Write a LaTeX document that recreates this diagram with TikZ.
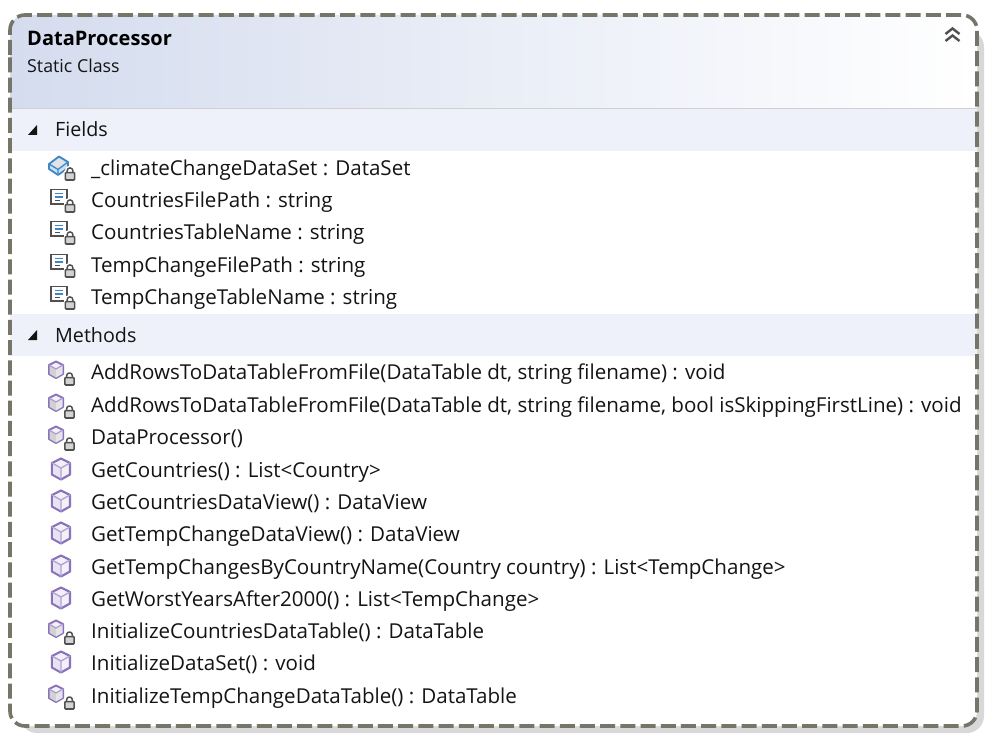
\documentclass[tikz,border=0pt]{standalone}
\usepackage{fontspec}
\setmainfont{Open Sans}
\definecolor{dashc}{HTML}{77756A}
\definecolor{shadowc}{HTML}{D8D8D8}
\definecolor{headl}{HTML}{D4DCEE}
\definecolor{bandc}{HTML}{EEF1F9}
\definecolor{rulec}{HTML}{CFCFCF}
\definecolor{purp}{HTML}{8A72BC}
\definecolor{purpl}{HTML}{F3F0F8}
\definecolor{txtc}{HTML}{141414}
\definecolor{lockc}{HTML}{505050}
\definecolor{bluei}{HTML}{3F86C6}
\tikzset{
  x=1pt,y=-1pt,
  member/.style={anchor=base west,inner sep=0pt,text=txtc,font=\fontsize{20.55}{24}\selectfont},
  band/.style={anchor=base west,inner sep=0pt,text=txtc,font=\fontsize{19.7}{24}\selectfont},
  pics/lockp/.style={code={
    \draw[white,line width=4.5pt,rounded corners=2.8pt] (-2.8,-3) -- (-2.8,-8) -- (2.8,-8) -- (2.8,-3);
    \fill[white] (-6.4,-4.8) rectangle (6.4,5.8);
    \draw[lockc,line width=1.5pt,rounded corners=2.6pt] (-2.8,-3) -- (-2.8,-8) -- (2.8,-8) -- (2.8,-3);
    \draw[lockc,fill=lockc!25,line width=1.6pt,rounded corners=.8pt] (-4.6,-3.4) rectangle (4.6,4);
  }},
  pics/cube/.style={code={
    \draw[purp,fill=purpl,line width=2.2pt,line join=round] (0,-10.5) -- (9,-6) -- (9,5.5) -- (0,10.5) -- (-9,5.5) -- (-9,-6) -- cycle;
    \fill[purp!20] (0,-1) -- (-7.8,-5.3) -- (-7.8,4.8) -- (0,9.2) -- cycle;
    \draw[purp!65,line width=1.4pt] (-9,-6) -- (0,-1) -- (9,-6) (0,-1) -- (0,10.5);
  }},
  pics/cubelock/.style={code={
    \draw[purp,fill=purpl,line width=2pt,line join=round] (0,-8.5) -- (7,-5) -- (7,4) -- (0,8) -- (-7,4) -- (-7,-5) -- cycle;
    \fill[gray!35] (0,-1) -- (0,7.5) -- (-6.5,3.8) -- (-6.5,-4.5) -- cycle;
    \fill[gray!20] (0,-1) -- (0,7.5) -- (6.5,3.8) -- (6.5,-4.5) -- cycle;
    \draw[purp!70,line width=1.2pt] (-7,-5) -- (0,-1) -- (7,-5);
    \pic at (13.5,11) {lockp};
  }},
  pics/fieldlock/.style={code={
    \draw[lockc,fill=white,line width=1.5pt] (-8,-7.5) rectangle (8,7);
    \draw[bluei,line width=1.6pt] (-4.5,-3.5) -- (3.5,-3.5) (-4.5,0) -- (3.5,0);
    \draw[lockc,line width=1.5pt] (-4.5,3.5) -- (1,3.5);
    \pic at (11,11) {lockp};
  }},
  pics/datasetlock/.style={code={
    \draw[bluei,fill=bluei!25,line width=1.8pt,line join=round] (-11,-2) -- (-1,-9.5) -- (8,-4) -- (8,2) -- (-2,9) -- (-11,3) -- cycle;
    \fill[gray!22] (-8,-2) -- (-1,-7) -- (5,-3.5) -- (-2,1.5) -- cycle;
    \draw[bluei,line width=1.3pt] (-11,-2) -- (-2,3.5) -- (8,-4) (-2,3.5) -- (-2,9);
    \pic at (10,10) {lockp};
  }},
}
\begin{document}
\begin{tikzpicture}
\useasboundingbox (0,0) rectangle (993,743);
\fill[white] (0,0) rectangle (993,743);
% shadow
\fill[shadowc,rounded corners=17pt] (20,30) rectangle (984,733);
\fill[white,rounded corners=15pt] (10,15) rectangle (977,726);
% header
\begin{scope}
\clip[rounded corners=15pt] (10,15) rectangle (977,726);
\shade[left color=headl,right color=white] (10,15) rectangle (977,108);
\fill[bandc] (10,109) rectangle (977,151);
\fill[bandc] (10,314) rectangle (977,356);
\draw[rulec,line width=1pt] (10,108.5) -- (977,108.5);
\end{scope}
% outer dashed border
\draw[dashc,line width=3.6pt,dash pattern=on 15pt off 5.2pt,rounded corners=15pt] (10,70) -- (10,15) -- (977,15) -- (977,726) -- (10,726) -- cycle;
% title
\node[anchor=base west,inner sep=0pt,text=black,font=\fontsize{20}{24}\selectfont\bfseries] (title) at (27,46) {DataProcessor};
\node[anchor=base west,inner sep=0pt,text=txtc,font=\fontsize{17.8}{21}\selectfont] (subtitle) at (27,73) {Static Class};
% collapse chevrons
\draw[lockc,line width=2.4pt] (945.5,34) -- (952.5,28.5) -- (959.5,34) (945.5,41) -- (952.5,35.5) -- (959.5,41);
% section arrows
\fill[txtc] (37,125) -- (37,135) -- (28,135) -- cycle;
\fill[txtc] (37,330) -- (37,340) -- (28,340) -- cycle;
\node[band] (fields) at (55,137) {Fields};
\node[band] (methods) at (55,342) {Methods};
% fields
\pic at (60,166) {datasetlock};
\pic at (59,197) {fieldlock};
\pic at (59,229) {fieldlock};
\pic at (59,262) {fieldlock};
\pic at (59,294) {fieldlock};
\node[member] (f1) at (91,175.5) {\_climateChangeDataSet : DataSet};
\node[member] (f2) at (91,207.5) {CountriesFilePath : string};
\node[member] (f3) at (91,239.5) {CountriesTableName : string};
\node[member] (f4) at (91,272.5) {TempChangeFilePath : string};
\node[member] (f5) at (91,304.5) {TempChangeTableName : string};
% methods
\pic at (56,370) {cubelock};
\pic at (56,403) {cubelock};
\pic at (56,435) {cubelock};
\pic at (61,469) {cube};
\pic at (61,501) {cube};
\pic at (61,533) {cube};
\pic at (61,566) {cube};
\pic at (61,598) {cube};
\pic at (56,629) {cubelock};
\pic at (61,662) {cube};
\pic at (56,694) {cubelock};
\node[member] (m1) at (91,379.5) {AddRowsToDataTableFromFile(DataTable dt, string filename) : void};
\node[member] (m2) at (91,412.5) {AddRowsToDataTableFromFile(DataTable dt, string filename, bool isSkippingFirstLine) : void};
\node[member] (m3) at (91,444.5) {DataProcessor()};
\node[member] (m4) at (91,477.5) {GetCountries() : List<Country>};
\node[member] (m5) at (91,509.5) {GetCountriesDataView() : DataView};
\node[member] (m6) at (91,541.5) {GetTempChangeDataView() : DataView};
\node[member] (m7) at (91,574.5) {GetTempChangesByCountryName(Country country) : List<TempChange>};
\node[member] (m8) at (91,606.5) {GetWorstYearsAfter2000() : List<TempChange>};
\node[member] (m9) at (91,638.5) {InitializeCountriesDataTable() : DataTable};
\node[member] (m10) at (91,670.5) {InitializeDataSet() : void};
\node[member] (m11) at (91,703.5) {InitializeTempChangeDataTable() : DataTable};
\end{tikzpicture}
\end{document}
